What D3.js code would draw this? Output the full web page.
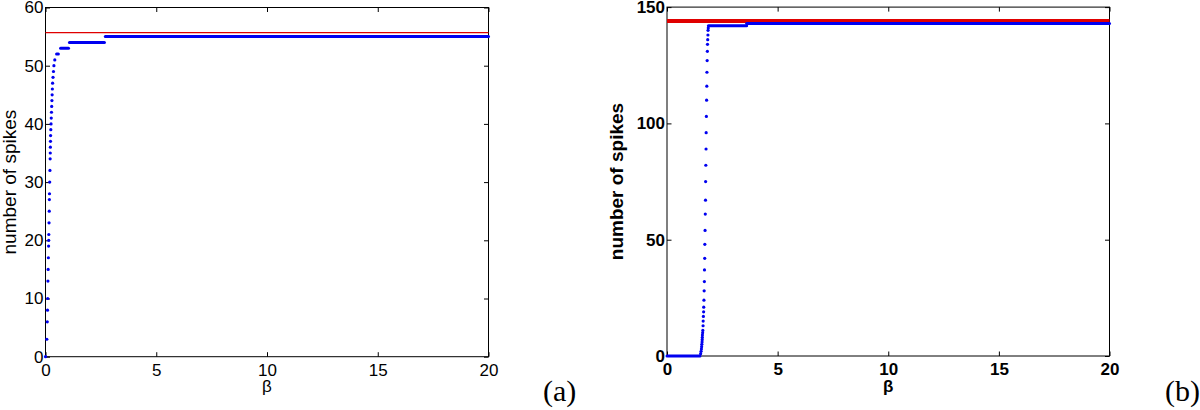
<!DOCTYPE html>
<html>
<head>
<meta charset="utf-8">
<script src="https://cdn.jsdelivr.net/npm/d3@7"></script>
<style>
  body { margin: 0; background: #fff; }
  svg { display: block; }
</style>
</head>
<body>
<div id="vis"></div>
<script>
// ── DATA ───────────────────────────────────────────────────────────────────────
const betaTicks   = [0, 5, 10, 15, 20];
const spikeTicksA = [0, 10, 20, 30, 40, 50, 60];
const spikeTicksB = [0, 50, 100, 150];

// panel (a): isolated samples on the steep rise [beta, spikes]
const riseA = [
  [0, 0], [0.06, 3], [0.08, 6], [0.09, 8], [0.10, 10], [0.11, 13], [0.12, 15],
  [0.13, 17], [0.14, 19], [0.145, 20], [0.15, 21], [0.16, 23], [0.17, 25],
  [0.175, 27], [0.18, 28], [0.19, 30], [0.20, 32], [0.21, 34], [0.215, 35],
  [0.22, 36], [0.225, 37], [0.23, 38], [0.24, 39], [0.25, 40], [0.26, 41],
  [0.27, 42], [0.28, 43], [0.29, 44], [0.30, 45], [0.31, 46], [0.32, 47],
  [0.34, 48], [0.36, 49], [0.38, 50], [0.42, 51]
];
// panel (a): plateaus [beta start, beta end, spikes]
const stepsA = [[0.50, 0.58, 52], [0.68, 1.04, 53], [1.08, 2.66, 54], [2.70, 20, 55]];
const boundA = 55.7;

// panel (b)
const riseB = [
  [1.52, 1], [1.54, 2], [1.555, 3], [1.565, 4], [1.575, 5], [1.585, 6], [1.59, 7],
  [1.595, 8], [1.60, 9], [1.61, 10], [1.62, 11], [1.63, 13], [1.635, 15],
  [1.645, 17], [1.655, 19], [1.66, 21], [1.67, 24], [1.68, 28], [1.69, 32],
  [1.695, 37], [1.705, 42], [1.71, 48], [1.72, 54], [1.73, 61], [1.74, 67],
  [1.745, 75], [1.755, 82], [1.765, 89], [1.77, 96], [1.78, 103], [1.79, 110],
  [1.80, 116], [1.805, 122], [1.815, 127], [1.825, 131], [1.83, 134],
  [1.84, 136], [1.85, 138], [1.855, 140], [1.865, 141]
];
const stepsB = [[0, 1.49, 0], [1.87, 3.6, 142], [3.6, 20, 143]];
const boundB = 144;

// ── CONFIG ─────────────────────────────────────────────────────────────────────
const width  = 1200;
const height = 410;
const blue   = "#0000f0";
const red    = "#e00000";
const tickLen = 4.5;

const svg = d3.select("#vis").append("svg")
    .attr("width", width)
    .attr("height", height)
    .style("font-family", "'Liberation Sans', Arial, sans-serif");

// ── PANELS ─────────────────────────────────────────────────────────────────────
function panel(o) {
  const x = d3.scaleLinear([0, 20], [o.left, o.right]);
  const y = d3.scaleLinear([0, o.ymax], [o.bottom, o.top]);
  const g = svg.append("g");
  const weight = o.bold ? "bold" : "normal";

  // frame
  g.append("rect")
    .attr("x", o.left).attr("y", o.top)
    .attr("width", o.right - o.left).attr("height", o.bottom - o.top)
    .attr("fill", "none").attr("stroke", "#000").attr("stroke-width", 1);

  const style = sel => {
    sel.select(".domain").remove();
    sel.selectAll(".tick line").attr("stroke", "#000");
    sel.selectAll("text")
      .attr("fill", "#000")
      .style("font-size", "17px")
      .style("font-weight", weight)
      .style("font-family", "'Liberation Sans', Arial, sans-serif");
  };

  g.append("g").attr("transform", `translate(0,${o.bottom})`)
    .call(d3.axisBottom(x).tickValues(betaTicks).tickFormat(d3.format("d"))
      .tickSize(-tickLen).tickPadding(7))
    .call(style);
  g.append("g").attr("transform", `translate(0,${o.top})`)
    .call(d3.axisTop(x).tickValues(betaTicks).tickFormat("").tickSize(-tickLen))
    .call(style);
  g.append("g").attr("transform", `translate(${o.left},0)`)
    .call(d3.axisLeft(y).tickValues(o.yticks).tickFormat(d3.format("d"))
      .tickSize(-tickLen).tickPadding(2))
    .call(style);
  g.append("g").attr("transform", `translate(${o.right},0)`)
    .call(d3.axisRight(y).tickValues(o.yticks).tickFormat("").tickSize(-tickLen))
    .call(style);

  // theoretical bound
  g.append("line")
    .attr("x1", x(0)).attr("x2", x(20))
    .attr("y1", y(o.bound)).attr("y2", y(o.bound))
    .attr("stroke", red).attr("stroke-width", o.boundWidth);

  // plateaus (dense samples drawn as thick runs)
  g.append("g").selectAll("line")
    .data(o.steps)
    .join("line")
      .attr("x1", d => x(d[0])).attr("x2", d => x(d[1]))
      .attr("y1", d => y(d[2])).attr("y2", d => y(d[2]))
      .attr("stroke", blue).attr("stroke-width", 3)
      .attr("stroke-linecap", "round");

  // isolated samples
  g.append("g").selectAll("circle")
    .data(o.rise)
    .join("circle")
      .attr("cx", d => x(d[0])).attr("cy", d => y(d[1]))
      .attr("r", 1.6).attr("fill", blue);

  // labels
  g.append("text")
    .attr("transform", `translate(${o.ylabelX},${(o.top + o.bottom) / 2}) rotate(-90)`)
    .attr("text-anchor", "middle")
    .style("font-size", "19px").style("font-weight", weight)
    .text("number of spikes");
  g.append("text")
    .attr("x", (o.left + o.right) / 2).attr("y", 392)
    .attr("text-anchor", "middle")
    .style("font-size", "17px").style("font-weight", weight)
    .text("β");
  g.append("text")
    .attr("x", o.tagX).attr("y", 401)
    .style("font-family", "'Liberation Serif', 'Times New Roman', serif")
    .style("font-size", "30px")
    .text(o.tag);
}

panel({
  left: 45.5, right: 488.5, top: 7.5, bottom: 356.7, ymax: 60,
  yticks: spikeTicksA, rise: riseA, steps: stepsA, bound: boundA,
  boundWidth: 1.2, bold: false, ylabelX: 16, tag: "(a)", tagX: 543
});
panel({
  left: 667, right: 1109.5, top: 7.1, bottom: 356, ymax: 150,
  yticks: spikeTicksB, rise: riseB, steps: stepsB, bound: boundB,
  boundWidth: 4, bold: true, ylabelX: 623, tag: "(b)", tagX: 1165
});
</script>
</body>
</html>
